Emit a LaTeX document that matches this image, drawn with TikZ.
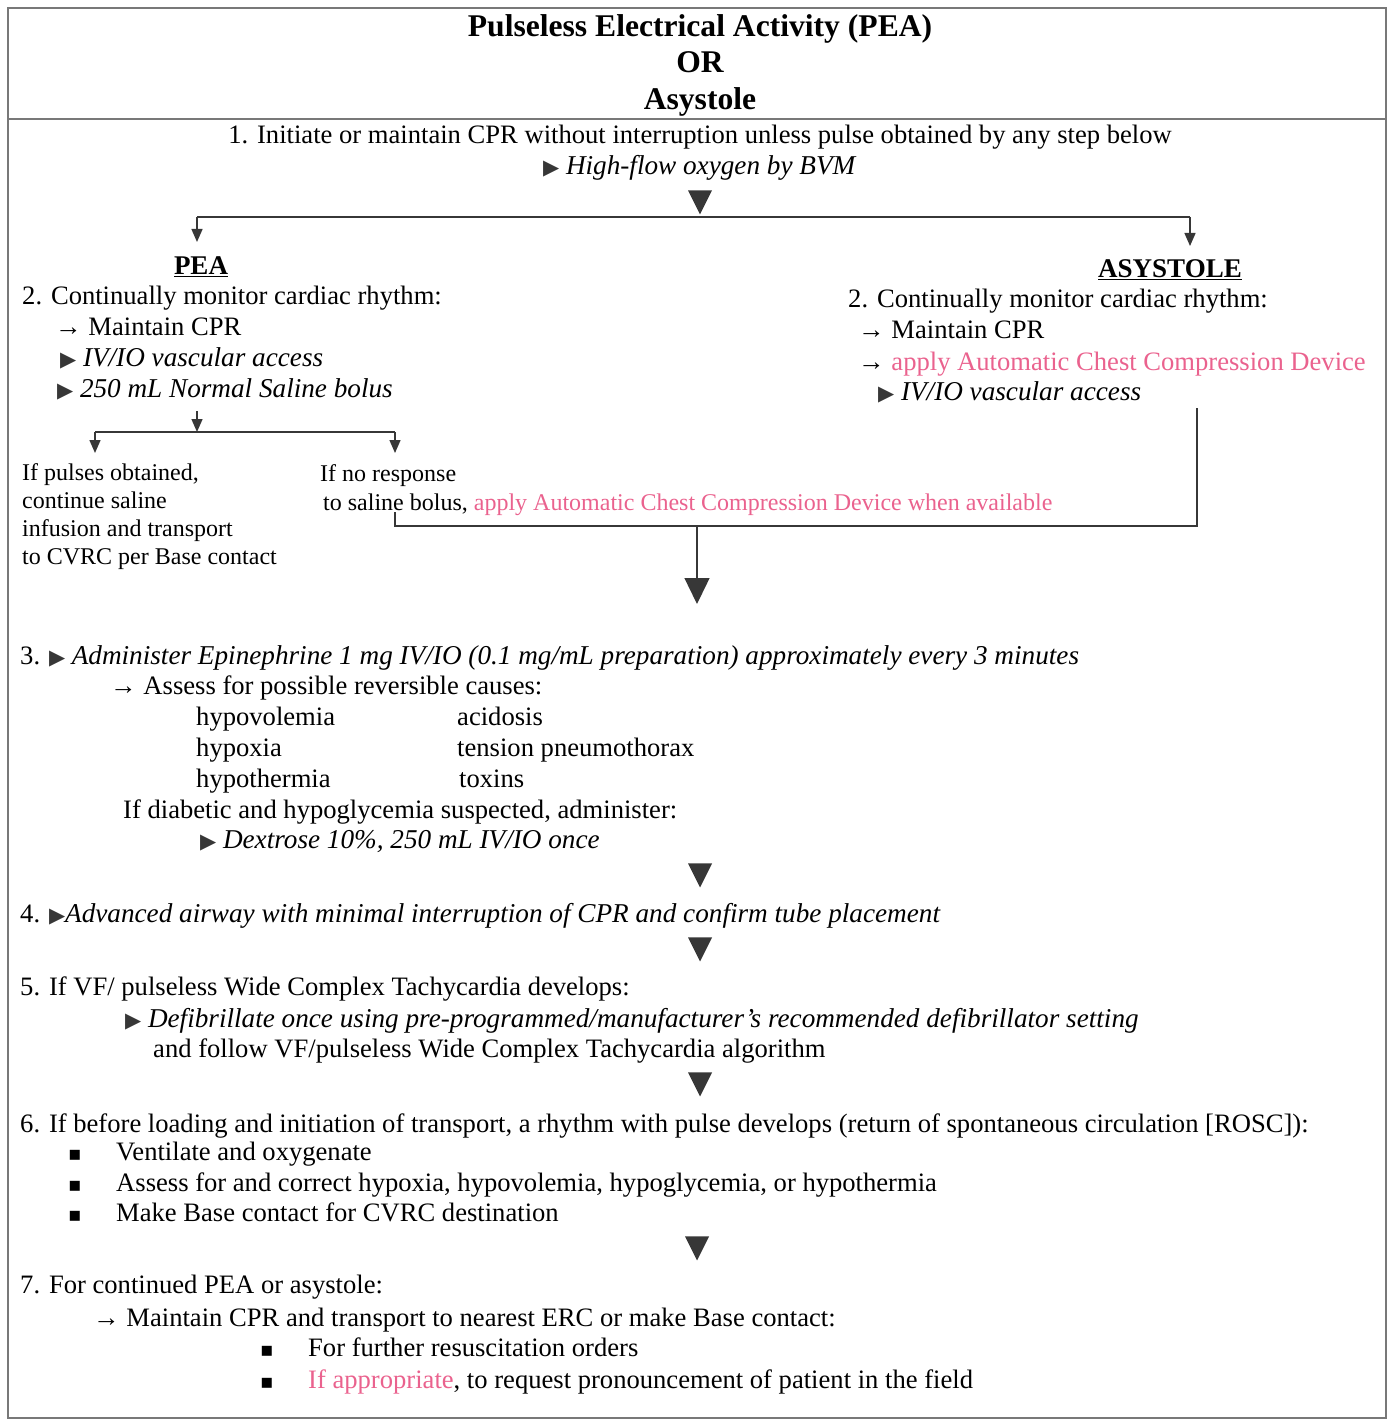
\documentclass[tikz,border=0pt]{standalone}
\usepackage{fontspec}
\setmainfont{Liberation Serif}
\newfontfamily\symfont{DejaVu Sans}
\usetikzlibrary{arrows.meta,shapes.geometric}

\definecolor{acdpink}{RGB}{234,98,142}
\definecolor{tipgray}{RGB}{55,55,55}
\definecolor{framegray}{RGB}{120,120,120}

\newcommand{\play}{{\symfont\fontsize{21}{21}\selectfont\textcolor{tipgray}{▶}}}
\newcommand{\sqbullet}{{\symfont\fontsize{20}{20}\selectfont ▪}}
\newcommand{\pink}[1]{\textcolor{acdpink}{#1}}
\newcommand{\drug}[1]{{\fontsize{27.2}{30}\selectfont\itshape #1}}

\begin{document}
\begin{tikzpicture}[x=1pt,y=-1pt]

    \tikzset{txt/.style={anchor=base west,inner sep=0pt,font=\fontsize{26.6}{30}\selectfont},
             ctxt/.style={txt,anchor=base},
             smalltxt/.style={txt,font=\fontsize{24}{28}\selectfont},
             headtxt/.style={anchor=base,inner sep=0pt,font=\bfseries\fontsize{31.6}{34}\selectfont},
             subhead/.style={headtxt,font=\bfseries\fontsize{27}{30}\selectfont},
             bigtri/.style={isosceles triangle,isosceles triangle stretches,shape border rotate=-90,
                            fill=tipgray,inner sep=0pt,minimum width=24pt,minimum height=24pt,anchor=apex},
             line/.style={draw=tipgray,line width=1.4pt},
             flow/.style={line,-{Triangle[width=11pt,length=13pt]}},
             bigflow/.style={line,-{Triangle[width=25pt,length=26pt]}}}

    \useasboundingbox (0,0) rectangle (1390,1420);
    \draw[framegray,line width=1.5pt] (8,8) rectangle (1386,1418);
    \draw[framegray,line width=1.5pt] (8,119) -- (1386,119);

    % title
    \node[headtxt] (title1) at (700,37) {Pulseless Electrical Activity (PEA)};
    \node[headtxt] (title2) at (700,73) {OR};
    \node[headtxt] (title3) at (700,110) {Asystole};

    % step 1
    \node[ctxt] (s1) at (700,144) {1. Initiate or maintain CPR without interruption unless pulse obtained by any step below};
    \node[txt] (s1b) at (543,175) {\play\ \drug{High-flow oxygen by BVM}};
    \node[bigtri] (t1) at (700,215) {};

    \coordinate (splitL) at (197,217);
    \coordinate (splitR) at (1190,217);
    \coordinate (peaIn) at (197,242);
    \coordinate (asyIn) at (1190,246);
    \draw[line] (splitL) -- (splitR);
    \draw[flow] (splitL) -- (peaIn);
    \draw[flow] (splitR) -- (asyIn);

    % PEA branch
    \node[subhead] (pea) at (201,275) {\underline{PEA}};
    \node[txt] (pea1) at (22,305) {2. Continually monitor cardiac rhythm:};
    \node[txt] (pea2) at (55,335) {→ Maintain CPR};
    \node[txt] (pea3) at (60,366) {\play\ \drug{IV/IO vascular access}};
    \node[txt] (pea4) at (57,397) {\play\ \drug{250 mL Normal Saline bolus}};

    \coordinate (salineOut) at (197,411);
    \coordinate (salineSplit) at (197,432);
    \coordinate (pulseL) at (95,432);
    \coordinate (noRespR) at (395,432);
    \coordinate (pulseIn) at (95,453);
    \coordinate (noRespIn) at (395,453);
    \draw[flow] (salineOut) -- (salineSplit);
    \draw[line] (pulseL) -- (noRespR);
    \draw[flow] (pulseL) -- (pulseIn);
    \draw[flow] (noRespR) -- (noRespIn);

    \node[smalltxt] (pulse1) at (22,480) {If pulses obtained,};
    \node[smalltxt] (pulse2) at (22,508) {continue saline};
    \node[smalltxt] (pulse3) at (22,536) {infusion and transport};
    \node[smalltxt] (pulse4) at (22,564) {to CVRC per Base contact};

    \node[smalltxt] (noresp1) at (320,481) {If no response};
    \node[smalltxt] (noresp2) at (323,510) {to saline bolus, \pink{apply Automatic Chest Compression Device when available}};

    % ASYSTOLE branch
    \node[subhead] (asy) at (1170,278) {\underline{ASYSTOLE}};
    \node[txt] (asy1) at (848,308) {2. Continually monitor cardiac rhythm:};
    \node[txt] (asy2) at (858,338) {→ Maintain CPR};
    \node[txt] (asy3) at (858,370) {→ \pink{apply Automatic Chest Compression Device}};
    \node[txt] (asy4) at (878,400) {\play\ \drug{IV/IO vascular access}};

    % merge
    \coordinate (noRespOut) at (395,512);
    \coordinate (mergeL) at (395,526);
    \coordinate (mergeR) at (1197,526);
    \coordinate (asyOut) at (1197,408);
    \coordinate (mergeMid) at (697,526);
    \coordinate (s3In) at (697,604);
    \draw[line] (noRespOut) -- (mergeL) -- (mergeR) -- (asyOut);
    \draw[bigflow] (mergeMid) -- (s3In);

    % step 3
    \node[txt] (s3) at (20,664) {3. \play\ \drug{Administer Epinephrine 1 mg IV/IO (0.1 mg/mL preparation) approximately every 3 minutes}};
    \node[txt] (s3a) at (110,694) {→ Assess for possible reversible causes:};
    \node[txt] (c1) at (196,725) {hypovolemia};
    \node[txt] (c2) at (457,725) {acidosis};
    \node[txt] (c3) at (196,756) {hypoxia};
    \node[txt] (c4) at (457,756) {tension pneumothorax};
    \node[txt] (c5) at (196,787) {hypothermia};
    \node[txt] (c6) at (459,787) {toxins};
    \node[txt] (s3b) at (123,818) {If diabetic and hypoglycemia suspected, administer:};
    \node[txt] (s3c) at (200,848) {\play\ \drug{Dextrose 10\%, 250 mL IV/IO once}};
    \node[bigtri] (t3) at (700,888) {};

    % step 4
    \node[txt] (s4) at (20,922) {4. \play\drug{Advanced airway with minimal interruption of CPR and confirm tube placement}};
    \node[bigtri] (t4) at (700,962) {};

    % step 5
    \node[txt] (s5) at (20,995) {5. If VF/ pulseless Wide Complex Tachycardia develops:};
    \node[txt] (s5a) at (125,1027) {\play\ \drug{Defibrillate once using pre-programmed/manufacturer's recommended defibrillator setting}};
    \node[txt] (s5b) at (153,1057) {and follow VF/pulseless Wide Complex Tachycardia algorithm};
    \node[bigtri] (t5) at (700,1097) {};

    % step 6
    \node[txt] (s6) at (20,1132) {6. If before loading and initiation of transport, a rhythm with pulse develops (return of spontaneous circulation [ROSC]):};
    \node[txt] (b1) at (68,1160) {\sqbullet};
    \node[txt] (s6a) at (116,1160) {Ventilate and oxygenate};
    \node[txt] (b2) at (68,1191) {\sqbullet};
    \node[txt] (s6b) at (116,1191) {Assess for and correct hypoxia, hypovolemia, hypoglycemia, or hypothermia};
    \node[txt] (b3) at (68,1221) {\sqbullet};
    \node[txt] (s6c) at (116,1221) {Make Base contact for CVRC destination};
    \node[bigtri] (t6) at (697,1261) {};

    % step 7
    \node[txt] (s7) at (20,1293) {7. For continued PEA or asystole:};
    \node[txt] (s7a) at (93,1326) {→ Maintain CPR and transport to nearest ERC or make Base contact:};
    \node[txt] (b4) at (260,1356) {\sqbullet};
    \node[txt] (s7b) at (308,1356) {For further resuscitation orders};
    \node[txt] (b5) at (260,1388) {\sqbullet};
    \node[txt] (s7c) at (308,1388) {\pink{If appropriate}, to request pronouncement of patient in the field};

\end{tikzpicture}
\end{document}
